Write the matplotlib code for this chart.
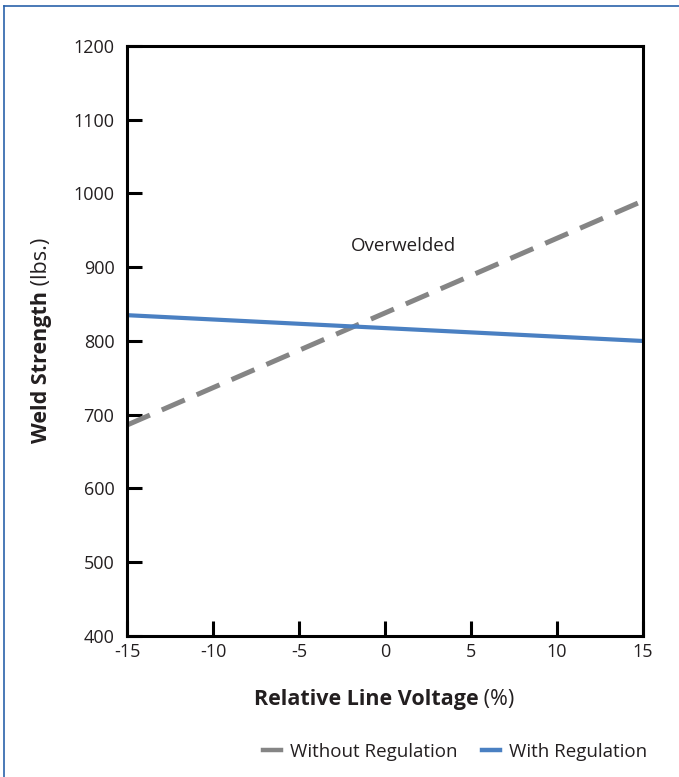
import matplotlib.pyplot as plt
from matplotlib.lines import Line2D

plt.rcParams['font.family'] = ['Open Sans', 'DejaVu Sans']

voltage = [-15, 15]
without_reg = [686, 990]
with_reg = [835, 800]
x_ticks = [-15, -10, -5, 0, 5, 10, 15]
y_ticks = [400, 500, 600, 700, 800, 900, 1000, 1100, 1200]

gray = '#858585'
blue = '#4a80c2'
txt = '#231f20'

fig = plt.figure(figsize=(6.79, 7.77), dpi=100)
ax = fig.add_axes([0.187, 0.1815, 0.760, 0.7593])

ax.plot(voltage, without_reg, color=gray, linewidth=3.6, dashes=(5.0, 2.6),
        solid_capstyle='butt', dash_capstyle='butt', clip_on=False)
ax.plot(voltage, with_reg, color=blue, linewidth=3.0, solid_capstyle='butt', clip_on=False)

ax.set_xlim(-15, 15)
ax.set_ylim(400, 1200)
ax.set_xticks(x_ticks)
ax.set_xticklabels([str(v) for v in x_ticks])
ax.set_yticks(y_ticks)
for s in ax.spines.values():
    s.set_linewidth(2.2)
    s.set_color('black')
ax.tick_params(direction='in', length=10.5, width=2.2, labelsize=13, colors='black',
               labelcolor=txt, top=False, right=False)
ax.tick_params(axis='x', pad=5)
ax.tick_params(axis='y', pad=9)

ax.text(1.05, 929, 'Overwelded', fontsize=13.5, color=txt, ha='center', va='center')

# axis labels: bold part + regular part
fig.canvas.draw()
r = fig.canvas.get_renderer()
t1 = fig.text(0, 700 / 777, 'Relative Line Voltage', fontsize=15.5, fontweight='bold',
              color=txt, ha='left', va='center', transform=None)
t2 = fig.text(0, 0, ' (%)', fontsize=15.5, color=txt, ha='left', va='center', transform=None)
w1 = t1.get_window_extent(r).width
w2 = t2.get_window_extent(r).width
xs = 384 - (w1 + w2) / 2
t1.set_position((xs, 777 - 700))
t2.set_position((xs + w1, 777 - 700))

u1 = fig.text(42, 0, 'Weld Strength', fontsize=15.5, fontweight='bold', color=txt,
              rotation=90, ha='center', va='bottom', transform=None)
u2 = fig.text(42, 0, ' (lbs.)', fontsize=15.5, color=txt, rotation=90,
              ha='center', va='bottom', transform=None)
h1 = u1.get_window_extent(r).height
h2 = u2.get_window_extent(r).height
ys = (777 - 340) - (h1 + h2) / 2
u1.set_position((42, ys))
u2.set_position((42, ys + h1))

handles = [Line2D([], [], color=gray, linewidth=3.2),
           Line2D([], [], color=blue, linewidth=3.2)]
fig.legend(handles, ['Without Regulation', 'With Regulation'], loc='center',
           bbox_to_anchor=(455 / 679, 1 - 752 / 777), ncol=2, frameon=False,
           fontsize=13.5, handlelength=0.95, handletextpad=0.5, columnspacing=1.3,
           labelcolor=txt)

# frame lines on top and left
fig.add_artist(Line2D([4 / 679, 4 / 679], [0, 1 - 6 / 777], color='#2a62aa', linewidth=1.2))
fig.add_artist(Line2D([4 / 679, 1], [1 - 6 / 777, 1 - 6 / 777], color='#2a62aa', linewidth=1.2))

fig.savefig('out.png', dpi=100)
